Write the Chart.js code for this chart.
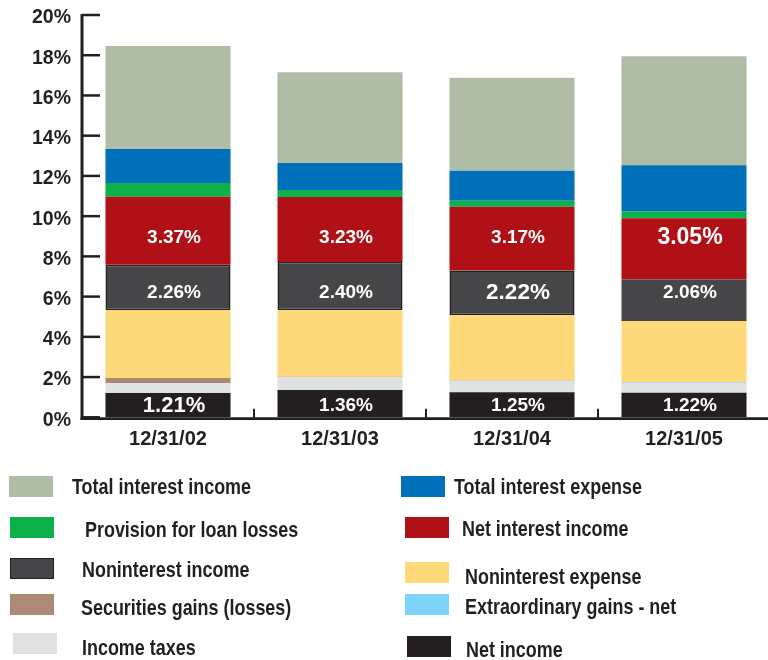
<!DOCTYPE html>
<html>
<head>
<meta charset="utf-8">
<script src="https://cdn.jsdelivr.net/npm/chart.js@4/dist/chart.umd.min.js"></script>
<style>
  html, body { margin: 0; padding: 0; background: #ffffff; overflow: hidden; width: 768px; height: 660px; }
  #wrap { position: absolute; left: 0; top: 0; width: 770px; height: 456px; }
  #legend { position: absolute; left: 0; top: 0; width: 768px; height: 660px; pointer-events: none; }
  .sw { position: absolute; width: 44px; height: 21px; box-sizing: border-box; }
  .lt { position: absolute; font-family: "Liberation Sans", Arial, sans-serif; font-weight: bold; font-size: 22px; line-height: 24px; color: #231f20; white-space: nowrap; transform: scaleX(0.815); transform-origin: 0 50%; }
</style>
</head>
<body>
<div id="wrap"><canvas id="c" width="770" height="456"></canvas></div>
<div id="legend"></div>
<script>
// ---- data (percent of average assets) ----
const categories = ['12/31/02', '12/31/03', '12/31/04', '12/31/05'];
const netIncome            = [1.21, 1.36, 1.25, 1.22];
const incomeTaxes          = [0.49, 0.63, 0.58, 0.50];
const securitiesGains      = [0.25, 0.03, 0.02, 0.00];
const extraordinaryGains   = [0.00, 0.00, 0.00, 0.04];
const noninterestExpense   = [3.38, 3.30, 3.23, 3.03];
const noninterestIncome    = [2.26, 2.40, 2.22, 2.06];
const netInterestIncome    = [3.37, 3.23, 3.17, 3.05];
const provisionLoanLosses  = [0.69, 0.35, 0.30, 0.34];
const totalInterestExpense = [1.69, 1.34, 1.49, 2.29];
const totalInterestIncome  = [5.12, 4.52, 4.62, 5.42];
const yTicks = [0, 2, 4, 6, 8, 10, 12, 14, 16, 18, 20];

// ---- styles ----
const INK = '#231f20';
const series = [
  { label: 'Net income',                data: netIncome,            color: '#231f20', valueLabels: true },
  { label: 'Income taxes',              data: incomeTaxes,          color: '#e0e1e3' },
  { label: 'Securities gains (losses)', data: securitiesGains,      color: '#ad8a76' },
  { label: 'Extraordinary gains - net', data: extraordinaryGains,   color: '#7ed3f7' },
  { label: 'Noninterest expense',       data: noninterestExpense,   color: '#fdd97a' },
  { label: 'Noninterest income',        data: noninterestIncome,    color: '#464648', valueLabels: true, outline: [1.5, 1.5, 1.5, 0] },
  { label: 'Net interest income',       data: netInterestIncome,    color: '#b01117', valueLabels: true },
  { label: 'Provision for loan losses', data: provisionLoanLosses,  color: '#0db14b' },
  { label: 'Total interest expense',    data: totalInterestExpense, color: '#0070bb' },
  { label: 'Total interest income',     data: totalInterestIncome,  color: '#afbca6' }
];
// larger value labels (dataset label -> category index -> font size)
const bigLabelSize = { 'Net income': {0: 22}, 'Noninterest income': {2: 22.5}, 'Net interest income': {3: 23} };

const legendLayout = {
  'Total interest income':     { sx: 9,   sy: 476, tx: 72,  ty: 487 },
  'Provision for loan losses': { sx: 10,  sy: 517, tx: 85,  ty: 530 },
  'Noninterest income':        { sx: 10,  sy: 558, tx: 82,  ty: 570 },
  'Securities gains (losses)': { sx: 10,  sy: 594, tx: 81,  ty: 608 },
  'Income taxes':              { sx: 13,  sy: 633, tx: 82,  ty: 648 },
  'Total interest expense':    { sx: 401, sy: 476, tx: 454, ty: 487 },
  'Net interest income':       { sx: 405, sy: 517, tx: 462, ty: 529 },
  'Noninterest expense':       { sx: 405, sy: 562, tx: 465, ty: 577 },
  'Extraordinary gains - net': { sx: 405, sy: 594, tx: 465, ty: 607 },
  'Net income':                { sx: 407, sy: 636, tx: 466, ty: 650 }
};

const datasets = series.map(s => ({
  label: s.label,
  data: s.data,
  backgroundColor: s.color,
  borderColor: INK,
  borderWidth: s.outline || 0,
  borderSkipped: false,
  categoryPercentage: 1.0,
  barPercentage: 0.727,
  valueLabels: !!s.valueLabels
}));

// axes drawn like the original: ticks pointing into the plot
const axisPlugin = {
  id: 'axisPlugin',
  afterDatasetsDraw(chart) {
    const ctx = chart.ctx, xs = chart.scales.x, ys = chart.scales.y;
    const left = chart.chartArea.left;
    const y0 = ys.getPixelForValue(0);
    const yTop = ys.getPixelForValue(yTicks[yTicks.length - 1]);
    ctx.save();
    ctx.strokeStyle = INK;
    ctx.lineCap = 'butt';
    ctx.lineWidth = 3;
    ctx.beginPath();
    ctx.moveTo(left, yTop - 1);
    ctx.lineTo(left, y0 + 2.5);
    ctx.stroke();
    ctx.lineWidth = 2.5;
    yTicks.forEach(v => {
      const py = ys.getPixelForValue(v);
      ctx.beginPath();
      ctx.moveTo(left, py);
      ctx.lineTo(left + 18, py);
      ctx.stroke();
    });
    ctx.lineWidth = 2.7;
    ctx.beginPath();
    ctx.moveTo(left - 1.5, y0 + 1.3);
    ctx.lineTo(chart.width, y0 + 1.3);
    ctx.stroke();
    const step = xs.getPixelForValue(1) - xs.getPixelForValue(0);
    ctx.lineWidth = 2;
    for (let i = 0; i < categories.length; i++) {
      const px = xs.getPixelForValue(i) + step / 2;
      ctx.beginPath();
      ctx.moveTo(px, y0 + 1);
      ctx.lineTo(px, y0 - 8.5);
      ctx.stroke();
    }
    ctx.restore();
  }
};

// value labels, aligned in a row per series at the mean of segment centres
const valueLabelPlugin = {
  id: 'valueLabelPlugin',
  afterDatasetsDraw(chart) {
    const ctx = chart.ctx;
    ctx.save();
    ctx.fillStyle = '#ffffff';
    ctx.textAlign = 'center';
    ctx.textBaseline = 'middle';
    chart.data.datasets.forEach((ds, di) => {
      if (!ds.valueLabels) return;
      const meta = chart.getDatasetMeta(di);
      const centres = meta.data.map(el => (el.y + el.base) / 2);
      const rowY = centres.reduce((a, b) => a + b, 0) / centres.length;
      meta.data.forEach((el, i) => {
        const size = (bigLabelSize[ds.label] && bigLabelSize[ds.label][i]) || 19;
        ctx.font = 'bold ' + size + 'px "Liberation Sans", Arial, sans-serif';
        ctx.fillText(ds.data[i].toFixed(2) + '%', el.x + 6, rowY + 1);
      });
    });
    ctx.restore();
  }
};

const chart = new Chart(document.getElementById('c'), {
  type: 'bar',
  data: { labels: categories, datasets },
  options: {
    responsive: false,
    animation: false,
    devicePixelRatio: 1,
    layout: { padding: { top: 15, right: 0, left: 0, bottom: 0 } },
    plugins: { legend: { display: false }, tooltip: { enabled: false } },
    scales: {
      x: {
        stacked: true,
        grid: { display: false, drawTicks: false },
        border: { display: false },
        ticks: {
          color: INK,
          padding: 10,
          font: { family: '"Liberation Sans", Arial, sans-serif', weight: 'bold', size: 20 }
        },
        afterFit(scale) { scale.height = 38.7; scale.paddingLeft = 0; scale.paddingRight = 0; }
      },
      y: {
        stacked: true,
        min: 0,
        max: 20,
        grid: { display: false, drawTicks: false },
        border: { display: false },
        ticks: {
          stepSize: 2,
          color: INK,
          padding: 11,
          labelOffset: 3,
          font: { family: '"Liberation Sans", Arial, sans-serif', weight: 'bold', size: 19.5 },
          callback: v => v + '%'
        },
        afterFit(scale) { scale.width = 82; scale.paddingTop = 0; scale.paddingBottom = 0; }
      }
    }
  },
  plugins: [axisPlugin, valueLabelPlugin]
});

// HTML legend built from the chart's datasets
const legendEl = document.getElementById('legend');
chart.data.datasets.forEach(ds => {
  const pos = legendLayout[ds.label];
  if (!pos) return;
  const sw = document.createElement('div');
  sw.className = 'sw';
  sw.style.left = pos.sx + 'px';
  sw.style.top = pos.sy + 'px';
  sw.style.background = ds.backgroundColor;
  if (Array.isArray(ds.borderWidth) && ds.borderWidth.some(w => w > 0)) {
    sw.style.border = '1.5px solid ' + INK;
  }
  legendEl.appendChild(sw);
  const t = document.createElement('div');
  t.className = 'lt';
  t.style.left = pos.tx + 'px';
  t.style.top = (pos.ty - 11.7) + 'px';
  t.textContent = ds.label;
  legendEl.appendChild(t);
});
</script>
</body>
</html>
